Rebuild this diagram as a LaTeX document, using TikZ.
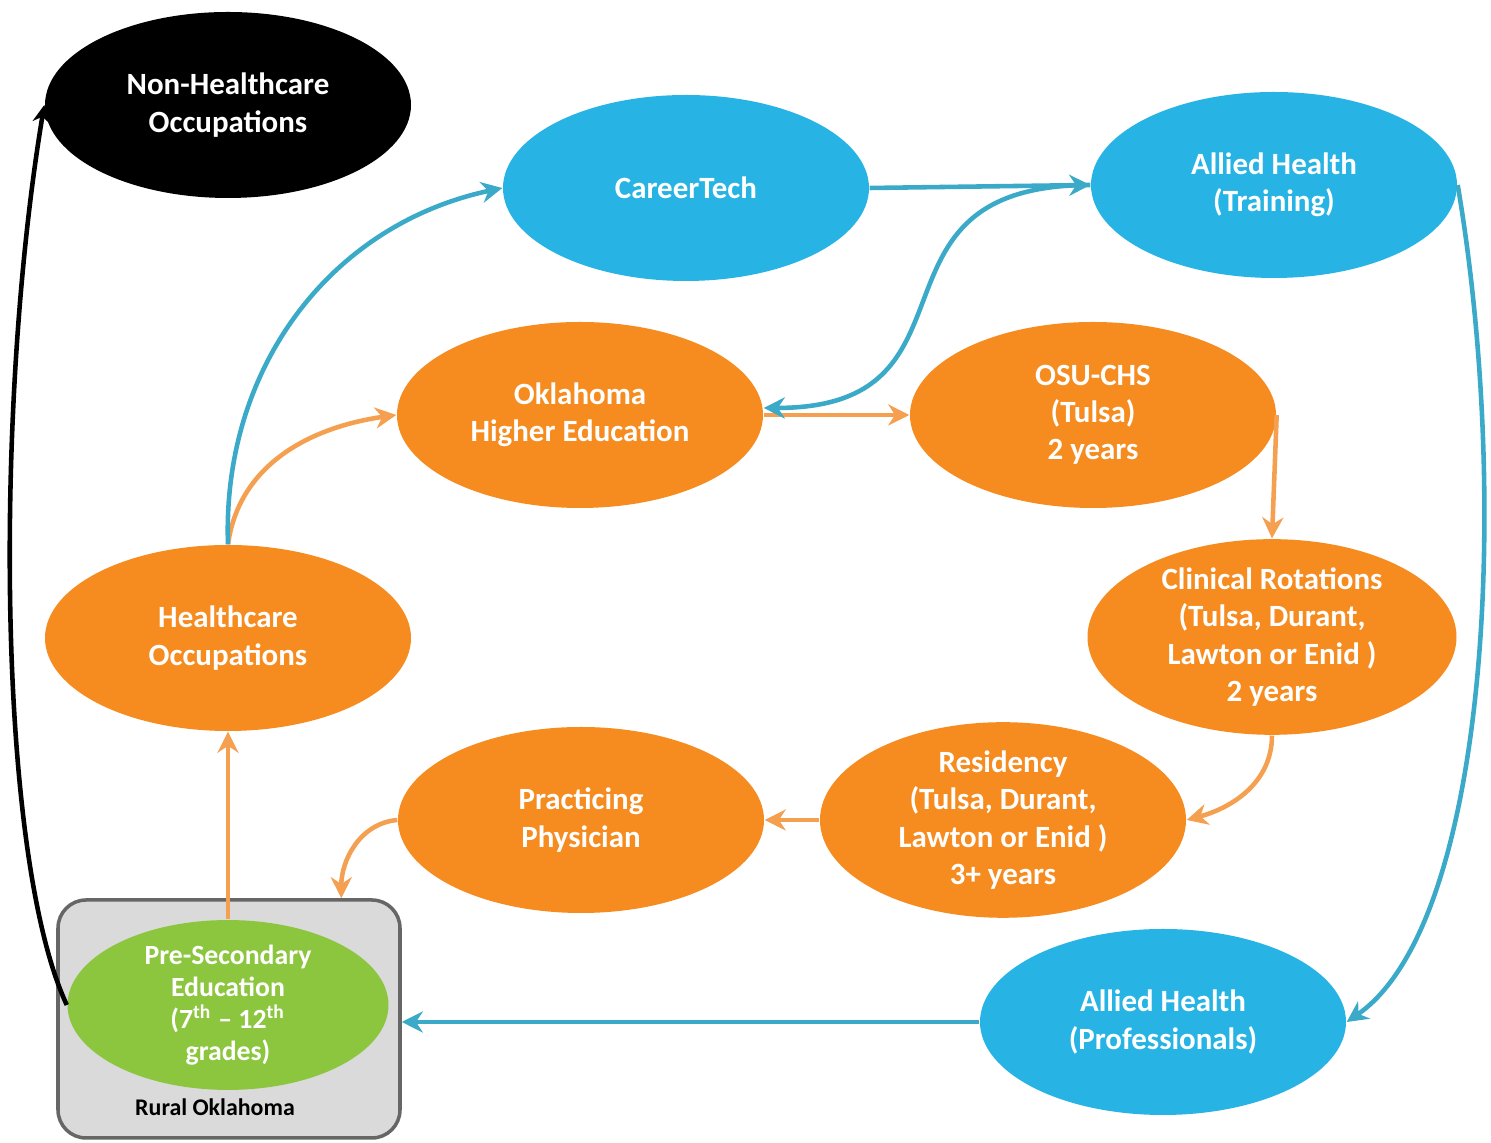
\documentclass[tikz,border=0pt]{standalone}
\usepackage{fontspec}
\setmainfont{Carlito}
\usetikzlibrary{arrows.meta,positioning,shapes.geometric,calc}

\definecolor{ovalorange}{HTML}{F68B1F}
\definecolor{ovalblue}{HTML}{27B4E4}
\definecolor{ovalgreen}{HTML}{8CC63F}
\definecolor{linkorange}{HTML}{F5A050}
\definecolor{linkblue}{HTML}{3BAAC9}
\definecolor{ruralgray}{HTML}{DADADA}

\begin{document}
\begin{tikzpicture}[
        oval/.style={ellipse, draw=none, inner sep=0pt, align=center, text=white,
            minimum width=3.66cm, minimum height=1.86cm,
            font=\fontsize{8.8}{10.6}\selectfont\bfseries},
        orangeoval/.style={oval, fill=ovalorange},
        blueoval/.style={oval, fill=ovalblue},
        region/.style={rectangle, rounded corners=8pt, draw=gray!80!black, line width=1pt, fill=ruralgray},
        oarrow/.style={-{Stealth[length=6pt,width=6pt]}, line width=1.3pt, draw=linkorange},
        barrow/.style={-{Stealth[length=6pt,width=6pt]}, line width=1.3pt, draw=linkblue},
        karrow/.style={-{Stealth[length=5pt,width=5pt]}, line width=1.3pt, draw=black}
    ]
        \useasboundingbox (0,0) rectangle (14.91,11.43);

        % rural area with the starting point
        \node[region, minimum width=3.42cm, minimum height=2.38cm] (rural) at (2.29,1.24) {};
        \node[oval, fill=ovalgreen, minimum width=3.21cm, minimum height=1.60cm,
            font=\fontsize{7.9}{9.1}\selectfont\bfseries] (presec) at (2.28,1.38)
            {Pre-Secondary\\Education\\(7\textsuperscript{th} -- 12\textsuperscript{th}\\grades)};
        \node[font=\fontsize{6.8}{8}\selectfont\bfseries] (ruraltext) at (2.15,0.36) {Rural Oklahoma};

        \node[oval, fill=black] (nonhc) at (2.28,10.38) {Non-Healthcare\\Occupations};
        \node[orangeoval] (hcocc) at (2.28,5.05) {Healthcare\\Occupations};

        \node[blueoval] (career) at (6.86,9.55) {CareerTech};
        \node[blueoval] (alliedtr) at (12.74,9.58) {Allied Health\\(Training)};
        \node[blueoval] (alliedpro) at (11.63,1.21) {Allied Health\\(Professionals)};

        \node[orangeoval] (okhe) at (5.80,7.28) {Oklahoma\\Higher Education};
        \node[orangeoval] (osu) at (10.93,7.28) {OSU-CHS\\(Tulsa)\\2 years};
        \node[orangeoval, minimum width=3.69cm] (clin) at (12.72,5.06) {Clinical Rotations\\(Tulsa, Durant,\\Lawton or Enid )\\2 years};
        \node[orangeoval] (resid) at (10.03,3.23) {Residency\\(Tulsa, Durant,\\Lawton or Enid )\\3+ years};
        \node[orangeoval] (prac) at (5.81,3.23) {Practicing\\Physician};

        % physician track
        \draw[oarrow] (presec.north) -- (hcocc.south);
        \draw[oarrow] (hcocc.north) to[out=82, in=188] (okhe.west);
        \draw[oarrow] (okhe.east) -- (osu.west);
        \draw[oarrow] (osu.east) -- (clin.north);
        \draw[oarrow] (clin.south) to[out=-90, in=15] (resid.east);
        \draw[oarrow] (resid.west) -- (prac.east);
        \draw[oarrow] (prac.west) to[out=185, in=90] ($(rural.north)!0.65!(rural.north east)$);

        % allied health track
        \draw[barrow] (hcocc.north) to[out=92, in=192] (career.west);
        \draw[barrow] (career.east) -- (alliedtr.west);
        \draw[barrow] (alliedtr.west) .. controls +(-2.4,0) and +(2.3,0) .. ([yshift=2pt]okhe.east);
        \draw[barrow] (alliedtr.east) .. controls (15.1,6.5) and (14.9,2.2) .. (alliedpro.east);
        \draw[barrow] (alliedpro.west) -- (alliedpro.west -| rural.east);

        % leaving healthcare
        \draw[karrow] (presec.west) .. controls +(-0.7,1.5) and +(-0.5,-3) .. (nonhc.west);
    \end{tikzpicture}
\end{document}
